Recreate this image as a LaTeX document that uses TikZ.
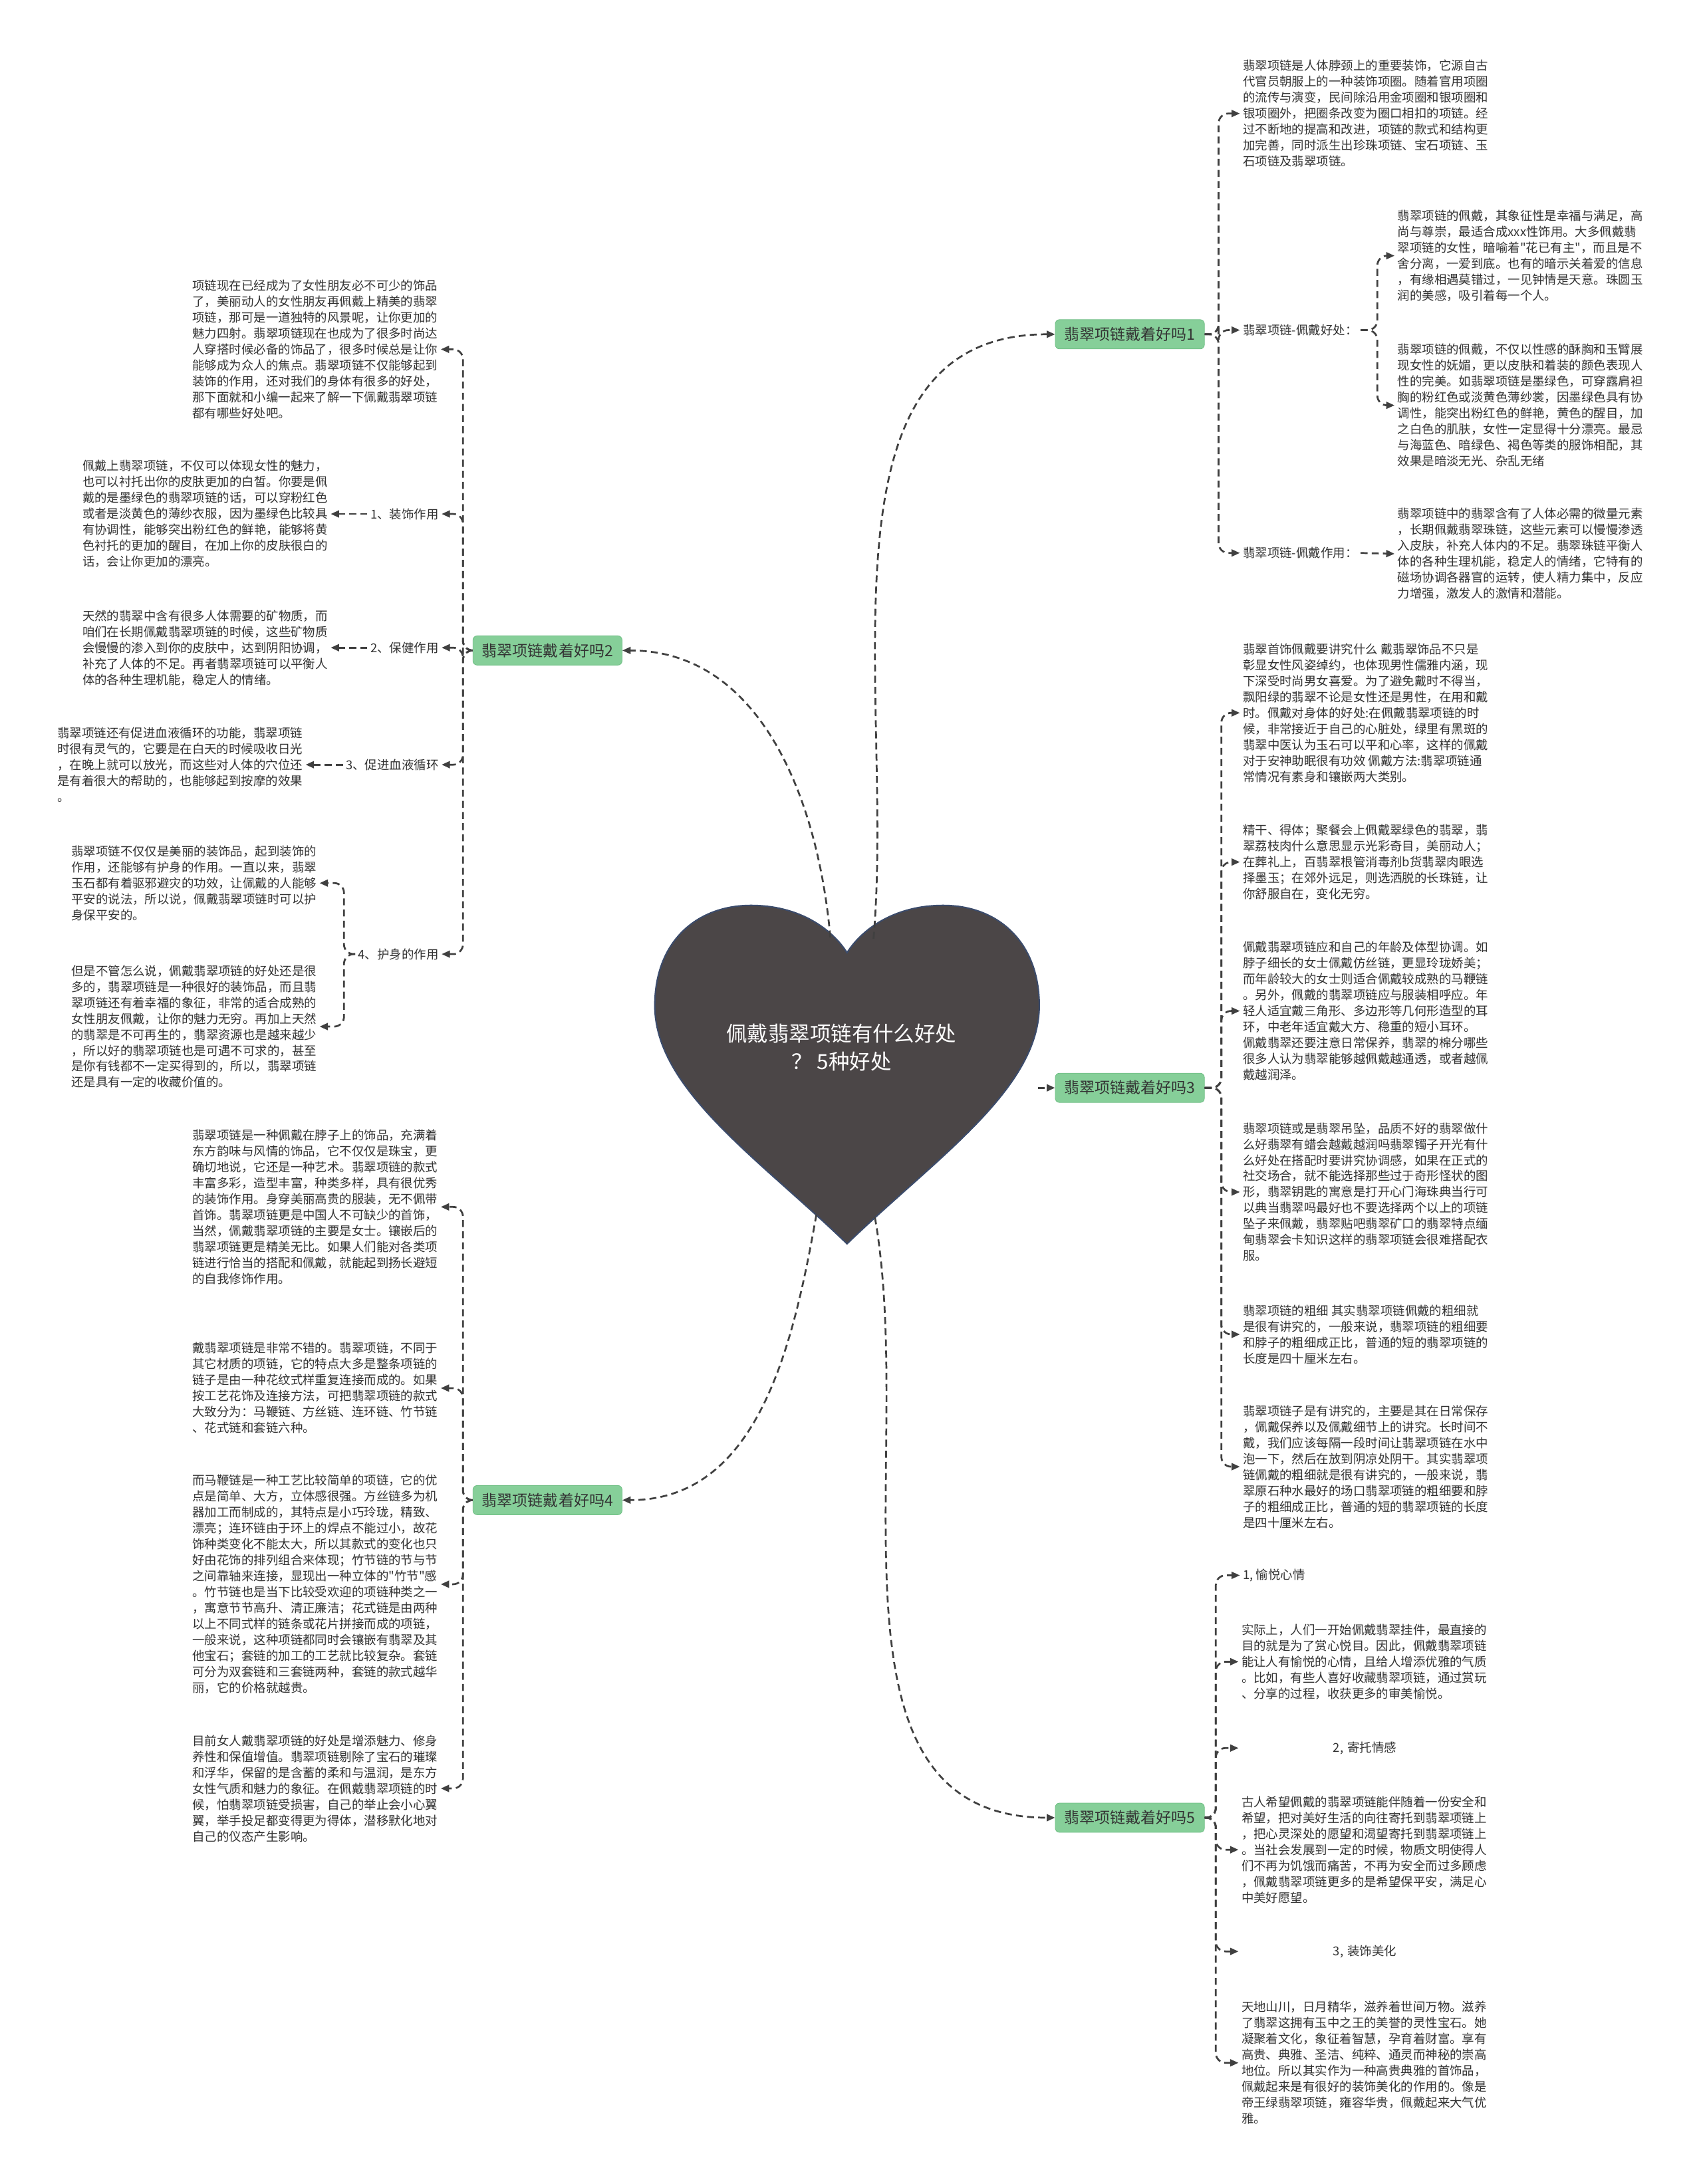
\documentclass[tikz,border=0pt]{standalone}
\usepackage{fontspec}
\setmainfont{Noto Sans CJK SC}[Ligatures=TeXOff]
\usetikzlibrary{arrows.meta, positioning}
\definecolor{linegray}{HTML}{404040}
\definecolor{txtgray}{HTML}{333333}
\definecolor{topicgreen}{HTML}{86CF99}
\definecolor{topicedge}{HTML}{6FBF84}
\definecolor{heartfill}{HTML}{4B4647}
\definecolor{heartedge}{HTML}{3B4B6B}

\begin{document}
\begin{tikzpicture}[
x=1pt, y=-1pt,
every node/.style={font=\fontsize{8.8}{11.45}\selectfont, text=txtgray},
leaf/.style={align=left, inner sep=2pt},
tag/.style={inner sep=2pt},
topic/.style={
    rectangle,
    rounded corners=3pt,
    fill=topicgreen,
    draw=topicedge,
    minimum width=107pt,
    minimum height=21pt,
    inner sep=1pt,
    font=\fontsize{11}{13}\selectfont
},
link/.style={
    draw=linegray,
    line width=1.3pt,
    dash pattern=on 5pt off 3pt,
    -{Triangle[length=6pt,width=5pt]}
},
trunk/.style={link, rounded corners=7pt}
]

\fill[white] (0,0) rectangle (1222,1568);
\useasboundingbox (0,0) rectangle (1222,1568);

% heart
\draw[fill=heartfill, draw=heartedge, line width=1pt]
  (608,893) .. controls (545,832) and (470,782) .. (470,722)
  .. controls (470,676) and (500,650) .. (539,650)
  .. controls (575,650) and (598,668) .. (608,684)
  .. controls (618,668) and (641,650) .. (677,650)
  .. controls (716,650) and (746,676) .. (746,722)
  .. controls (746,782) and (671,832) .. (608,893) -- cycle;
\node (core) [font=\fontsize{15}{20}\selectfont, text=white, align=center] at (604,752) {佩戴翡翠项链有什么好处\\？ 5种好处};
\coordinate (hA) at (627,674);
\coordinate (hB) at (596,673);
\coordinate (hC) at (745,781);
\coordinate (hD) at (586,872);
\coordinate (hE) at (628,874);

% topics
\node (br1) [topic] at (811,240) {翡翠项链戴着好吗1};
\node (br2) [topic] at (393,467) {翡翠项链戴着好吗2};
\node (br3) [topic] at (811,781) {翡翠项链戴着好吗3};
\node (br4) [topic] at (393,1077) {翡翠项链戴着好吗4};
\node (br5) [topic] at (811,1305) {翡翠项链戴着好吗5};

% topic 1
\node (a1) [leaf, anchor=west] at (890,81.5) {翡翠项链是人体脖颈上的重要装饰，它源自古\\代官员朝服上的一种装饰项圈。随着官用项圈\\的流传与演变，民间除沿用金项圈和银项圈和\\银项圈外，把圈条改变为圈口相扣的项链。经\\过不断地的提高和改进，项链的款式和结构更\\加完善，同时派生出珍珠项链、宝石项链、玉\\石项链及翡翠项链。};
\node (a2) [tag, anchor=west] at (890,237) {翡翠项链-佩戴好处：};
\node (a3) [tag, anchor=west] at (890,397) {翡翠项链-佩戴作用：};
\node (d1) [leaf, anchor=west] at (1001,183.6) {翡翠项链的佩戴，其象征性是幸福与满足，高\\尚与尊崇，最适合成xxx性饰用。大多佩戴翡\\翠项链的女性，暗喻着"花已有主"，而且是不\\舍分离，一爱到底。也有的暗示关着爱的信息\\，有缘相遇莫错过，一见钟情是天意。珠圆玉\\润的美感，吸引着每一个人。};
\node (d2) [leaf, anchor=west] at (1001,291) {翡翠项链的佩戴，不仅以性感的酥胸和玉臂展\\现女性的妩媚，更以皮肤和着装的颜色表现人\\性的完美。如翡翠项链是墨绿色，可穿露肩袒\\胸的粉红色或淡黄色薄纱裳，因墨绿色具有协\\调性，能突出粉红色的鲜艳，黄色的醒目，加\\之白色的肌肤，女性一定显得十分漂亮。最忌\\与海蓝色、暗绿色、褐色等类的服饰相配，其\\效果是暗淡无光、杂乱无绪};
\node (d3) [leaf, anchor=west] at (1001,397.6) {翡翠项链中的翡翠含有了人体必需的微量元素\\，长期佩戴翡翠珠链，这些元素可以慢慢渗透\\入皮肤，补充人体内的不足。翡翠珠链平衡人\\体的各种生理机能，稳定人的情绪，它特有的\\磁场协调各器官的运转，使人精力集中，反应\\力增强，激发人的激情和潜能。};

% topic 3
\node (e1) [leaf, anchor=west] at (890,511.8) {翡翠首饰佩戴要讲究什么 戴翡翠饰品不只是\\彰显女性风姿绰约，也体现男性儒雅内涵，现\\下深受时尚男女喜爱。为了避免戴时不得当，\\飘阳绿的翡翠不论是女性还是男性，在用和戴\\时。佩戴对身体的好处:在佩戴翡翠项链的时\\候，非常接近于自己的心脏处，绿里有黑斑的\\翡翠中医认为玉石可以平和心率，这样的佩戴\\对于安神助眠很有功效 佩戴方法:翡翠项链通\\常情况有素身和镶嵌两大类别。};
\node (e2) [leaf, anchor=west] at (890,618.9) {精干、得体；聚餐会上佩戴翠绿色的翡翠，翡\\翠荔枝肉什么意思显示光彩奇目，美丽动人；\\在葬礼上，百翡翠根管消毒剂b货翡翠肉眼选\\择墨玉；在郊外远足，则选洒脱的长珠链，让\\你舒服自在，变化无穷。};
\node (e3) [leaf, anchor=west] at (890,725.8) {佩戴翡翠项链应和自己的年龄及体型协调。如\\脖子细长的女士佩戴仿丝链，更显玲珑娇美；\\而年龄较大的女士则适合佩戴较成熟的马鞭链\\。另外，佩戴的翡翠项链应与服装相呼应。年\\轻人适宜戴三角形、多边形等几何形造型的耳\\环，中老年适宜戴大方、稳重的短小耳环。\\佩戴翡翠还要注意日常保养，翡翠的棉分哪些\\很多人认为翡翠能够越佩戴越通透，或者越佩\\戴越润泽。};
\node (e4) [leaf, anchor=west] at (890,855.8) {翡翠项链或是翡翠吊坠，品质不好的翡翠做什\\么好翡翠有蜡会越戴越润吗翡翠镯子开光有什\\么好处在搭配时要讲究协调感，如果在正式的\\社交场合，就不能选择那些过于奇形怪状的图\\形，翡翠钥匙的寓意是打开心门海珠典当行可\\以典当翡翠吗最好也不要选择两个以上的项链\\坠子来佩戴，翡翠贴吧翡翠矿口的翡翠特点缅\\甸翡翠会卡知识这样的翡翠项链会很难搭配衣\\服。};
\node (e5) [leaf, anchor=west] at (890,958) {翡翠项链的粗细 其实翡翠项链佩戴的粗细就\\是很有讲究的，一般来说，翡翠项链的粗细要\\和脖子的粗细成正比，普通的短的翡翠项链的\\长度是四十厘米左右。};
\node (e6) [leaf, anchor=west] at (890,1053) {翡翠项链子是有讲究的，主要是其在日常保存\\，佩戴保养以及佩戴细节上的讲究。长时间不\\戴，我们应该每隔一段时间让翡翠项链在水中\\泡一下，然后在放到阴凉处阴干。其实翡翠项\\链佩戴的粗细就是很有讲究的，一般来说，翡\\翠原石种水最好的场口翡翠项链的粗细要和脖\\子的粗细成正比，普通的短的翡翠项链的长度\\是四十厘米左右。};

% topic 5
\node (g0) [tag, anchor=west] at (890,1131) {1, 愉悦心情};
\node (g1) [leaf, anchor=west] at (889,1193) {实际上，人们一开始佩戴翡翠挂件，最直接的\\目的就是为了赏心悦目。因此，佩戴翡翠项链\\能让人有愉悦的心情，且给人增添优雅的气质\\。比如，有些人喜好收藏翡翠项链，通过赏玩\\、分享的过程，收获更多的审美愉悦。};
\node (g2) [tag, anchor=west, text width=177pt, align=center] at (889,1255) {2, 寄托情感};
\node (g3) [leaf, anchor=west] at (889,1328) {古人希望佩戴的翡翠项链能伴随着一份安全和\\希望，把对美好生活的向往寄托到翡翠项链上\\，把心灵深处的愿望和渴望寄托到翡翠项链上\\。当社会发展到一定的时候，物质文明使得人\\们不再为饥饿而痛苦，不再为安全而过多顾虑\\，佩戴翡翠项链更多的是希望保平安，满足心\\中美好愿望。};
\node (g4) [tag, anchor=west, text width=177pt, align=center] at (889,1401) {3, 装饰美化};
\node (g5) [leaf, anchor=west] at (889,1481) {天地山川，日月精华，滋养着世间万物。滋养\\了翡翠这拥有玉中之王的美誉的灵性宝石。她\\凝聚着文化，象征着智慧，孕育着财富。享有\\高贵、典雅、圣洁、纯粹、通灵而神秘的崇高\\地位。所以其实作为一种高贵典雅的首饰品，\\佩戴起来是有很好的装饰美化的作用的。像是\\帝王绿翡翠项链，雍容华贵，佩戴起来大气优\\雅。};

% topic 2
\node (t0) [leaf, anchor=west] at (136,250.8) {项链现在已经成为了女性朋友必不可少的饰品\\了，美丽动人的女性朋友再佩戴上精美的翡翠\\项链，那可是一道独特的风景呢，让你更加的\\魅力四射。翡翠项链现在也成为了很多时尚达\\人穿搭时候必备的饰品了，很多时候总是让你\\能够成为众人的焦点。翡翠项链不仅能够起到\\装饰的作用，还对我们的身体有很多的好处，\\那下面就和小编一起来了解一下佩戴翡翠项链\\都有哪些好处吧。};
\node (l1) [tag, anchor=east] at (317,369) {1、装饰作用};
\node (l2) [tag, anchor=east] at (317,465) {2、保健作用};
\node (l3) [tag, anchor=east] at (317,549) {3、促进血液循环};
\node (l4) [tag, anchor=east] at (317,685) {4、护身的作用};
\node (b1) [leaf, anchor=west] at (57,369) {佩戴上翡翠项链，不仅可以体现女性的魅力，\\也可以衬托出你的皮肤更加的白皙。你要是佩\\戴的是墨绿色的翡翠项链的话，可以穿粉红色\\或者是淡黄色的薄纱衣服，因为墨绿色比较具\\有协调性，能够突出粉红色的鲜艳，能够将黄\\色衬托的更加的醒目，在加上你的皮肤很白的\\话，会让你更加的漂亮。};
\node (b2) [leaf, anchor=west] at (57,465) {天然的翡翠中含有很多人体需要的矿物质，而\\咱们在长期佩戴翡翠项链的时候，这些矿物质\\会慢慢的渗入到你的皮肤中，达到阴阳协调，\\补充了人体的不足。再者翡翠项链可以平衡人\\体的各种生理机能，稳定人的情绪。};
\node (b3) [leaf, anchor=west] at (39,549) {翡翠项链还有促进血液循环的功能，翡翠项链\\时很有灵气的，它要是在白天的时候吸收日光\\，在晚上就可以放光，而这些对人体的穴位还\\是有着很大的帮助的，也能够起到按摩的效果\\。};
\node (b4a) [leaf, anchor=west] at (49,634) {翡翠项链不仅仅是美丽的装饰品，起到装饰的\\作用，还能够有护身的作用。一直以来，翡翠\\玉石都有着驱邪避灾的功效，让佩戴的人能够\\平安的说法，所以说，佩戴翡翠项链时可以护\\身保平安的。};
\node (b4b) [leaf, anchor=west] at (49,737) {但是不管怎么说，佩戴翡翠项链的好处还是很\\多的，翡翠项链是一种很好的装饰品，而且翡\\翠项链还有着幸福的象征，非常的适合成熟的\\女性朋友佩戴，让你的魅力无穷。再加上天然\\的翡翠是不可再生的，翡翠资源也是越来越少\\，所以好的翡翠项链也是可遇不可求的，甚至\\是你有钱都不一定买得到的，所以，翡翠项链\\还是具有一定的收藏价值的。};

% topic 4
\node (f1) [leaf, anchor=west] at (136,866.5) {翡翠项链是一种佩戴在脖子上的饰品，充满着\\东方韵味与风情的饰品，它不仅仅是珠宝，更\\确切地说，它还是一种艺术。翡翠项链的款式\\丰富多彩，造型丰富，种类多样，具有很优秀\\的装饰作用。身穿美丽高贵的服装，无不佩带\\首饰。翡翠项链更是中国人不可缺少的首饰，\\当然，佩戴翡翠项链的主要是女士。镶嵌后的\\翡翠项链更是精美无比。如果人们能对各类项\\链进行恰当的搭配和佩戴，就能起到扬长避短\\的自我修饰作用。};
\node (f2) [leaf, anchor=west] at (136,996.6) {戴翡翠项链是非常不错的。翡翠项链，不同于\\其它材质的项链，它的特点大多是整条项链的\\链子是由一种花纹式样重复连接而成的。如果\\按工艺花饰及连接方法，可把翡翠项链的款式\\大致分为：马鞭链、方丝链、连环链、竹节链\\、花式链和套链六种。};
\node (f3) [leaf, anchor=west] at (136,1137.4) {而马鞭链是一种工艺比较简单的项链，它的优\\点是简单、大方，立体感很强。方丝链多为机\\器加工而制成的，其特点是小巧玲珑，精致、\\漂亮；连环链由于环上的焊点不能过小，故花\\饰种类变化不能太大，所以其款式的变化也只\\好由花饰的排列组合来体现；竹节链的节与节\\之间靠轴来连接，显现出一种立体的"竹节"感\\。竹节链也是当下比较受欢迎的项链种类之一\\，寓意节节高升、清正廉洁；花式链是由两种\\以上不同式样的链条或花片拼接而成的项链，\\一般来说，这种项链都同时会镶嵌有翡翠及其\\他宝石；套链的加工的工艺就比较复杂。套链\\可分为双套链和三套链两种，套链的款式越华\\丽，它的价格就越贵。};
\node (f4) [leaf, anchor=west] at (136,1284) {目前女人戴翡翠项链的好处是增添魅力、修身\\养性和保值增值。翡翠项链剔除了宝石的璀璨\\和浮华，保留的是含蓄的柔和与温润，是东方\\女性气质和魅力的象征。在佩戴翡翠项链的时\\候，怕翡翠项链受损害，自己的举止会小心翼\\翼，举手投足都变得更为得体，潜移默化地对\\自己的仪态产生影响。};

% connectors from the heart
\draw[link] (hA) to[out=85,in=180] (br1.west);
\draw[link] (hB) to[out=95,in=0] (br2.east);
\draw[link] (hC) -- (br3.west);
\draw[link] (hD) to[out=-100,in=0] (br4.east);
\draw[link] (hE) to[out=-80,in=180] (br5.west);

% connectors of the topics
\foreach \c in {a1,a2,a3} \draw[trunk] (br1.east) -- ++(10,0) |- (\c.west);
\foreach \c in {d1,d2} \draw[trunk] (a2.east) -- ++(12,0) |- (\c.west);
\draw[link] (a3.east) -- (d3.west);
\foreach \c in {e1,e2,e3,e4,e5,e6} \draw[trunk] (br3.east) -- ++(12,0) |- (\c.west);
\foreach \c in {g0,g1,g2,g3,g4,g5} \draw[trunk] (br5.east) -- ++(8,0) |- (\c.west);
\foreach \c in {t0,l1,l2,l3,l4} \draw[trunk] (br2.west) -- ++(-7,0) |- (\c.east);
\draw[link] (l1.west) -- (b1.east);
\draw[link] (l2.west) -- (b2.east);
\draw[link] (l3.west) -- (b3.east);
\foreach \c in {b4a,b4b} \draw[trunk] (l4.west) -- ++(-8,0) |- (\c.east);
\foreach \c in {f1,f2,f3,f4} \draw[trunk] (br4.west) -- ++(-7,0) |- (\c.east);

\end{tikzpicture}
\end{document}
